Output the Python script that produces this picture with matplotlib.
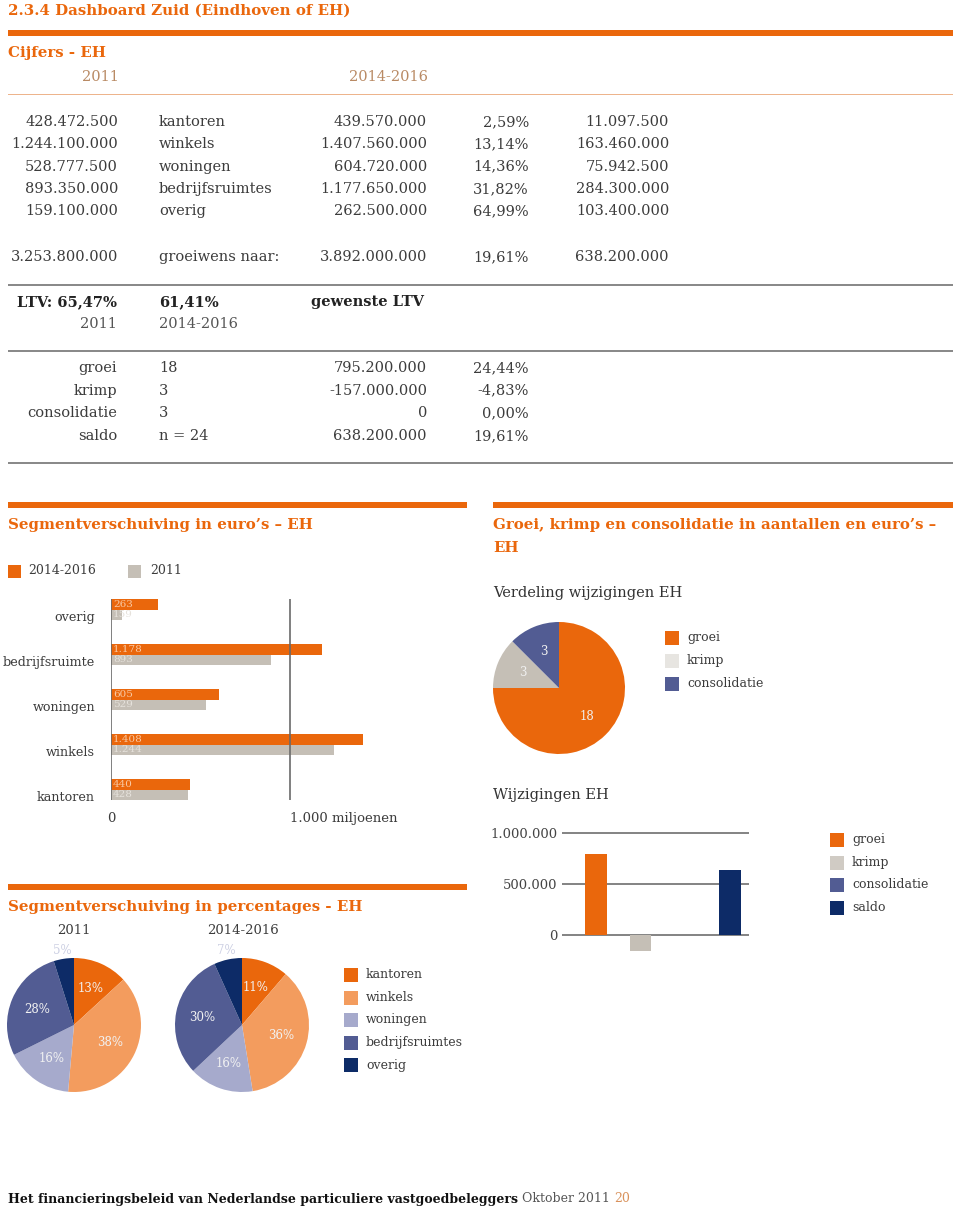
import numpy as np
import matplotlib
matplotlib.use('Agg')
import matplotlib.pyplot as plt
from matplotlib.patches import Rectangle

W, H = 960, 1211
SERIF = 'DejaVu Serif'
ORANGE = '#EA670C'
LIGHT_ORANGE = '#F39C5E'
GRAY_BAR = '#C5BFB6'
KRIMP_LIGHT = '#E7E5E1'
LAVENDER = '#A6AACC'
BLUE = '#525C93'
NAVY = '#0D2B67'
TXT = '#3C3C3C'
TAN = '#B98A64'

# ---- data ----
segments = ['kantoren', 'winkels', 'woningen', 'bedrijfsruimtes', 'overig']
tbl_2011 = ['428.472.500', '1.244.100.000', '528.777.500', '893.350.000', '159.100.000']
tbl_2014 = ['439.570.000', '1.407.560.000', '604.720.000', '1.177.650.000', '262.500.000']
tbl_pct = ['2,59%', '13,14%', '14,36%', '31,82%', '64,99%']
tbl_diff = ['11.097.500', '163.460.000', '75.942.500', '284.300.000', '103.400.000']
tbl_total = ['3.253.800.000', 'groeiwens naar:', '3.892.000.000', '19,61%', '638.200.000']

ltv_2011 = 'LTV: 65,47%'
ltv_2014 = '61,41%'

change_cats = ['groei', 'krimp', 'consolidatie', 'saldo']
change_n = ['18', '3', '3', 'n = 24']
change_eur_txt = ['795.200.000', '-157.000.000', '0', '638.200.000']
change_pct = ['24,44%', '-4,83%', '0,00%', '19,61%']

# segment values in millions (pies) and the percentages printed on them
seg_2011 = [428.4725, 1244.1, 528.7775, 893.35, 159.1]
seg_2014 = [439.57, 1407.56, 604.72, 1177.65, 262.5]
pct_2011 = ['13%', '38%', '16%', '28%', '5%']
pct_2014 = ['11%', '36%', '16%', '30%', '7%']

# bar chart "Segmentverschuiving in euro's" (bottom -> top)
bar_cats = ['kantoren', 'winkels', 'woningen', 'bedrijfsruimte', 'overig']
bar_2014 = [440, 1408, 605, 1178, 263]
bar_2011 = [428, 1244, 529, 893, 60]
bar_2011_labels = ['428', '1.244', '529', '893', '159']

# groei / krimp / consolidatie
pie_counts = [18, 3, 3]
pie_labels = ['groei', 'krimp', 'consolidatie']
eur_changes = [795200, -157000, 0, 638200]

seg_colors = [ORANGE, LIGHT_ORANGE, LAVENDER, BLUE, NAVY]


def fmt(v):
    return f'{v:,}'.replace(',', '.')


fig = plt.figure(figsize=(W / 100, H / 100), dpi=100)


def T(x, y, s, size=10.5, color=TXT, ha='left', weight='normal', **kw):
    return fig.text(x / W, 1 - y / H, s, fontsize=size, color=color, ha=ha,
                    va='center', fontweight=weight, family=SERIF, **kw)


def band(x0, x1, y0, y1, color):
    fig.add_artist(Rectangle((x0 / W, 1 - y1 / H), (x1 - x0) / W, (y1 - y0) / H,
                             transform=fig.transFigure, color=color, lw=0))


def px_axes(x0, y0, x1, y1):
    return fig.add_axes([x0 / W, 1 - y1 / H, (x1 - x0) / W, (y1 - y0) / H])


def legend(x, y0, step, labels, colors, size=9):
    for i, (lab, col) in enumerate(zip(labels, colors)):
        y = y0 + i * step
        band(x, x + 14, y - 7, y + 7, col)
        T(x + 22, y, lab, size=size)


# ---- header ----
T(8, 11, '2.3.4 Dashboard Zuid (Eindhoven of EH)', size=10.8, color=ORANGE, weight='bold')
band(8, 953, 30, 36, ORANGE)
T(8, 53, 'Cijfers - EH', size=10.8, color=ORANGE, weight='bold')
T(100, 77, '2011', size=10.5, color=TAN, ha='center')
T(388, 77, '2014-2016', size=10.5, color=TAN, ha='center')
band(8, 953, 93.5, 95, '#EDB48C')

for i in range(len(segments)):
    y = 122 + i * 22.3
    T(118, y, tbl_2011[i], ha='right')
    T(159, y, segments[i])
    T(427, y, tbl_2014[i], ha='right')
    T(529, y, tbl_pct[i], ha='right')
    T(669, y, tbl_diff[i], ha='right')
T(118, 257, tbl_total[0], ha='right')
T(159, 257, tbl_total[1])
T(427, 257, tbl_total[2], ha='right')
T(529, 257, tbl_total[3], ha='right')
T(669, 257, tbl_total[4], ha='right')

band(8, 953, 284, 286, '#8A8A8A')
T(117, 302, ltv_2011, ha='right', weight='bold', color='#222222')
T(159, 302, ltv_2014, weight='bold', color='#222222')
T(311, 302, 'gewenste LTV', weight='bold', color='#222222')
T(117, 324, '2011', ha='right', color='#555555')
T(159, 324, '2014-2016', color='#555555')
band(8, 953, 350, 352, '#8A8A8A')

for i in range(len(change_cats)):
    y = 368 + i * 22.6
    T(117, y, change_cats[i], ha='right')
    T(159, y, change_n[i])
    T(427, y, change_eur_txt[i], ha='right')
    T(529, y, change_pct[i], ha='right')
band(8, 953, 462, 464, '#8A8A8A')

# ---- Segmentverschuiving in euro's ----
band(8, 467, 502, 508, ORANGE)
T(8, 525, 'Segmentverschuiving in euro’s – EH', size=10.8, color=ORANGE, weight='bold')
band(8, 21, 565, 578, ORANGE)
T(28, 571, '2014-2016', size=9)
band(128, 141, 565, 578, GRAY_BAR)
T(150, 571, '2011', size=9)

ax = px_axes(111, 587, 469, 812)
y = np.arange(len(bar_cats))
h = 0.244
b1 = ax.barh(y + h / 2, bar_2014, height=h, color=ORANGE, lw=0)
b2 = ax.barh(y - h / 2, bar_2011, height=h, color=GRAY_BAR, lw=0)
for bars, labs, col in [(b1, [fmt(v) for v in bar_2014], '#F9C9A4'),
                        (b2, bar_2011_labels, '#E6E2DC')]:
    for rect, lab in zip(bars, labs):
        t = ax.text(11, rect.get_y() + rect.get_height() / 2, lab, fontsize=7.5,
                    color=col, va='center', family=SERIF)
        t.set_clip_path(rect)
ax.vlines([0, 1000], -h, len(bar_cats) - 1 + h, color='#6A6A6A', lw=1.2)
ax.set_xlim(0, 2000)
ax.set_ylim(-0.5, len(bar_cats) - 0.5)
for s in ax.spines.values():
    s.set_visible(False)
ax.set_yticks(y - 0.15, bar_cats)
ax.tick_params(axis='y', length=0, pad=11.5, labelsize=9.2, labelcolor=TXT)
ax.set_xticks([0, 1000], ['0', '1.000 miljoenen'])
ax.tick_params(axis='x', length=0, pad=0, labelsize=9.5, labelcolor=TXT)
ax.get_xticklabels()[1].set_ha('left')
for lab in ax.get_xticklabels() + ax.get_yticklabels():
    lab.set_family(SERIF)
ax.patch.set_visible(False)

# ---- Segmentverschuiving in percentages ----
band(8, 467, 884, 890, ORANGE)
T(8, 907, 'Segmentverschuiving in percentages - EH', size=10.8, color=ORANGE, weight='bold')
T(74, 930, '2011', size=9.5, ha='center')
T(243, 930, '2014-2016', size=9.5, ha='center')
for cx, vals, pcts in [(74, seg_2011, pct_2011), (242, seg_2014, pct_2014)]:
    pax = px_axes(cx - 67, 958, cx + 67, 1092)
    wedges, _, autotexts = pax.pie(vals, colors=seg_colors, startangle=90, counterclock=False,
                                   autopct='%1.0f%%', pctdistance=0.6,
                                   wedgeprops=dict(lw=0),
                                   textprops=dict(fontsize=8.5, color='#F2F2F2', family=SERIF))
    for at, p in zip(autotexts, pcts):
        at.set_text(p)
    last = autotexts[-1]
    px_, py_ = last.get_position()
    last.set_position((px_ * 1.13 / 0.6, py_ * 1.13 / 0.6))
    last.set_color('#CDD0E3')
    pax.set_xlim(-1, 1)
    pax.set_ylim(-1, 1)
    pax.set_aspect('equal')
    pax.axis('off')
legend(344, 975, 22.5, segments, seg_colors)

# ---- Groei, krimp en consolidatie ----
band(493, 953, 502, 508, ORANGE)
T(493, 525, 'Groei, krimp en consolidatie in aantallen en euro’s –', size=10.8, color=ORANGE, weight='bold')
T(493, 548, 'EH', size=10.8, color=ORANGE, weight='bold')
T(493, 593, 'Verdeling wijzigingen EH', size=10.5, color='#333333')

pax = px_axes(493, 622, 625, 754)
wedges, _, autotexts = pax.pie(pie_counts, colors=[ORANGE, GRAY_BAR, BLUE], startangle=90,
                               counterclock=False, autopct=lambda p: f'{p * sum(pie_counts) / 100:.0f}',
                               pctdistance=0.6, wedgeprops=dict(lw=0),
                               textprops=dict(fontsize=8.5, color='#F0F0F0', family=SERIF))
pax.set_xlim(-1, 1)
pax.set_ylim(-1, 1)
pax.set_aspect('equal')
pax.axis('off')
legend(665, 638, 22.8, pie_labels, [ORANGE, KRIMP_LIGHT, BLUE])

T(493, 795, 'Wijzigingen EH', size=10.5, color='#333333')
ax2 = px_axes(562, 828, 749, 956)
ppm = 102.0 / 1e6
ax2.set_ylim(-(956 - 935) / ppm, (935 - 828) / ppm)
ax2.set_xlim(-0.76, 3.43)
for gv in [0, 500000, 1000000]:
    ax2.axhline(gv, color='#7A7A7A', lw=1.3, zorder=0)
ax2.bar(np.arange(len(eur_changes)), eur_changes, width=0.49,
        color=[ORANGE, GRAY_BAR, BLUE, NAVY], lw=0, zorder=2)
for s in ax2.spines.values():
    s.set_visible(False)
ax2.set_xticks([])
ax2.set_yticks([0, 500000, 1000000], ['0', '500.000', '1.000.000'])
ax2.tick_params(axis='y', length=0, pad=3, labelsize=9.5, labelcolor='#444444')
for lab in ax2.get_yticklabels():
    lab.set_family(SERIF)
ax2.patch.set_visible(False)
legend(830, 840, 22.5, change_cats, [ORANGE, '#D0CBC4', BLUE, NAVY])

# ---- footer ----
r = fig.canvas.get_renderer()
t1 = T(8, 1199, 'Het financieringsbeleid van Nederlandse particuliere vastgoedbeleggers',
       size=9, color='#111111', weight='bold')
x1 = t1.get_window_extent(r).x1
t2 = T(x1 + 4, 1199, 'Oktober 2011', size=9, color='#555555')
x2 = t2.get_window_extent(r).x1
T(x2 + 4, 1199, '20', size=9, color='#D9925C')

fig.savefig('out.png', dpi=100)
